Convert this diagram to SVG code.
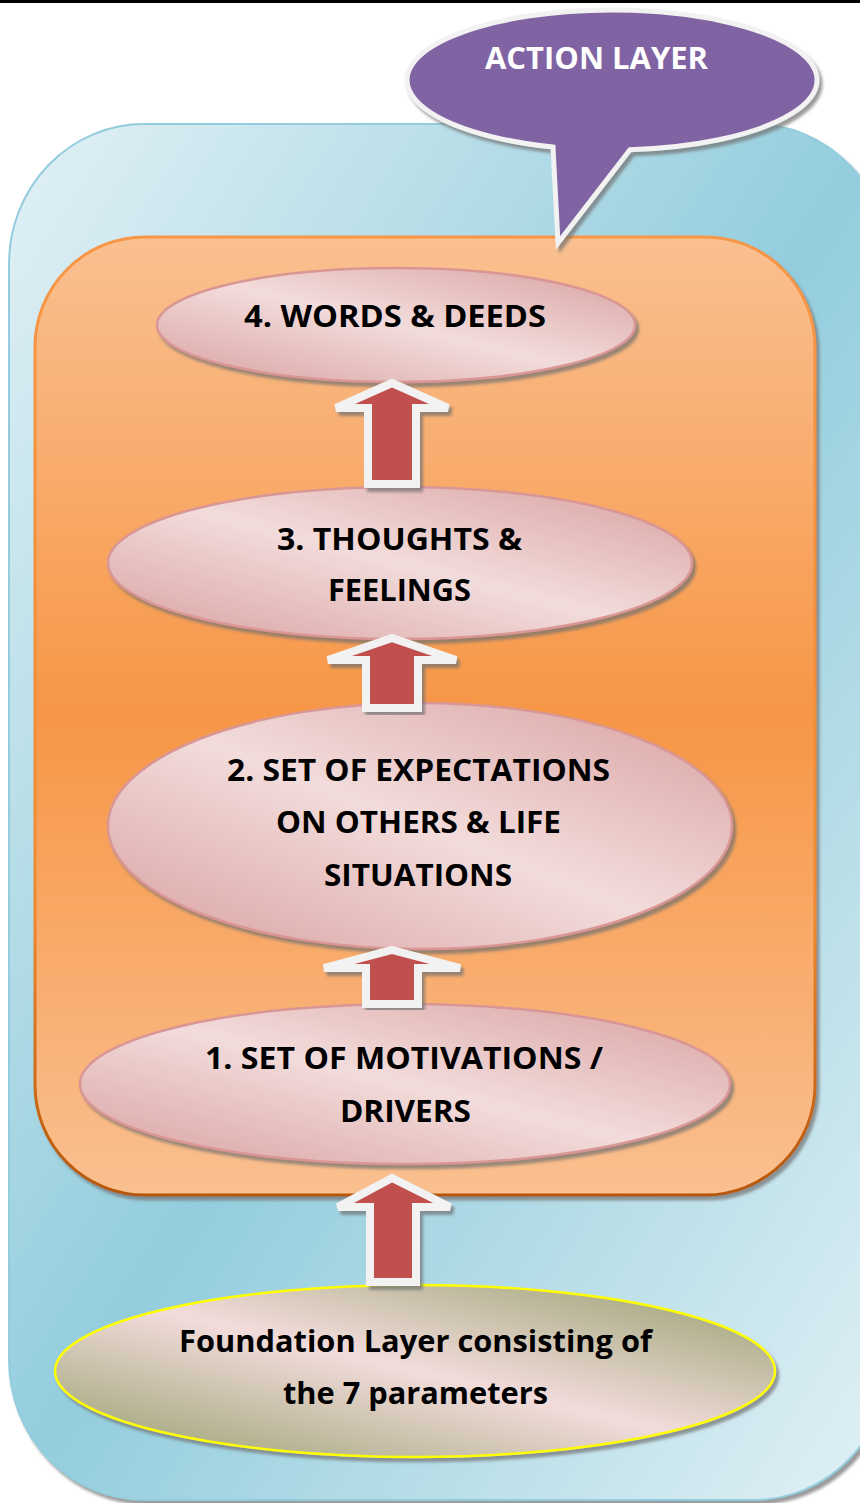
<svg xmlns="http://www.w3.org/2000/svg" width="860" height="1503" viewBox="0 0 860 1503">
<defs>
<linearGradient id="gBlue" x1="0" y1="0" x2="1" y2="1">
<stop offset="0" stop-color="#e2f1f5"/><stop offset="0.5" stop-color="#93cddd"/><stop offset="1" stop-color="#e2f1f5"/>
</linearGradient>
<linearGradient id="gOrange" x1="0" y1="0" x2="0" y2="1">
<stop offset="0" stop-color="#fac090"/><stop offset="0.5" stop-color="#f79646"/><stop offset="1" stop-color="#fac090"/>
</linearGradient>
<linearGradient id="gOrangeStroke" x1="0" y1="0" x2="0" y2="1">
<stop offset="0" stop-color="#f79646"/><stop offset="0.7" stop-color="#f08a30"/><stop offset="1" stop-color="#b65708"/>
</linearGradient>
<linearGradient id="gPink" x1="0" y1="1" x2="1" y2="0">
<stop offset="0" stop-color="#d9a0a0"/><stop offset="0.5" stop-color="#f2dcdb"/><stop offset="1" stop-color="#d9a0a0"/>
</linearGradient>
<linearGradient id="gFound" x1="0" y1="1" x2="1" y2="0">
<stop offset="0.05" stop-color="#9ea477"/><stop offset="0.5" stop-color="#f2dcdb"/><stop offset="0.95" stop-color="#9ea477"/>
</linearGradient>
<filter id="sh" x="-10%" y="-10%" width="120%" height="120%">
<feDropShadow dx="3" dy="4" stdDeviation="1.5" flood-color="#6f6f6f" flood-opacity="0.7"/>
</filter>
</defs>
<style>
.pink{fill:url(#gPink);stroke:#d99694;stroke-width:2.5;filter:url(#sh)}
.arrow{fill:#c0504d;stroke:#f2f2f2;stroke-width:8;stroke-linejoin:miter;filter:url(#sh)}
.t{font-family:"Open Sans","Liberation Sans",sans-serif;font-weight:bold;font-size:30px;fill:#000;text-anchor:middle}
.tw{font-family:"Open Sans","Liberation Sans",sans-serif;font-weight:bold;font-size:30px;fill:#fff;text-anchor:middle}
</style>
<rect x="0" y="0" width="860" height="3" fill="#000"/>
<g id="outer">
<rect x="9" y="124" width="880" height="1376" rx="135" ry="140" fill="url(#gBlue)" stroke="#93cddd" stroke-width="2" filter="url(#sh)"/>
</g>
<g id="action-layer-box">
<rect x="35" y="237" width="780" height="958" rx="110" ry="110" fill="url(#gOrange)" stroke="url(#gOrangeStroke)" stroke-width="3" filter="url(#sh)"/>
</g>
<g id="n4">
<ellipse class="pink" cx="396" cy="325" rx="239" ry="57"/>
<text class="t" x="395" y="327" textLength="302" lengthAdjust="spacingAndGlyphs">4. WORDS &amp; DEEDS</text>
</g>
<g id="n3">
<ellipse class="pink" cx="400" cy="563" rx="292" ry="76"/>
<text class="t" x="399.5" y="550" textLength="245" lengthAdjust="spacingAndGlyphs">3. THOUGHTS &amp;</text>
<text class="t" x="399.5" y="601" textLength="143" lengthAdjust="spacingAndGlyphs">FEELINGS</text>
</g>
<g id="n2">
<ellipse class="pink" cx="420" cy="826" rx="312" ry="123"/>
<text class="t" x="418.5" y="781" textLength="383" lengthAdjust="spacingAndGlyphs">2. SET OF EXPECTATIONS</text>
<text class="t" x="418.5" y="833" textLength="285" lengthAdjust="spacingAndGlyphs">ON OTHERS &amp; LIFE</text>
<text class="t" x="418" y="886" textLength="188" lengthAdjust="spacingAndGlyphs">SITUATIONS</text>
</g>
<g id="n1">
<ellipse class="pink" cx="405" cy="1084" rx="325" ry="80"/>
<text class="t" x="404" y="1069" textLength="398" lengthAdjust="spacingAndGlyphs">1. SET OF MOTIVATIONS /</text>
<text class="t" x="405.5" y="1122" textLength="131" lengthAdjust="spacingAndGlyphs">DRIVERS</text>
</g>
<g id="foundation">
<ellipse cx="415" cy="1371" rx="360" ry="86" fill="url(#gFound)" stroke="#ffff00" stroke-width="2.5" filter="url(#sh)"/>
<text class="t" x="415.5" y="1352" textLength="473" lengthAdjust="spacingAndGlyphs">Foundation Layer consisting of</text>
<text class="t" x="415.5" y="1404" textLength="265" lengthAdjust="spacingAndGlyphs">the 7 parameters</text>
</g>
<g id="connectors">
<polygon class="arrow" points="392,383 448,408 416,408 416,484 368,484 368,408 336,408"/>
<polygon class="arrow" points="392,638 456,660 418,660 418,708 366,708 366,660 328,660"/>
<polygon class="arrow" points="392,950 460,968 418,968 418,1004 366,1004 366,968 324,968"/>
<polygon class="arrow" points="392,1178 450,1207 416,1207 416,1282 370,1282 370,1207 338,1207"/>
</g>
<g id="callout">
<path d="M553,147 A205,70 0 1 1 630,149.7 L558,243 Z" fill="#8064a2" stroke="#f2f2f2" stroke-width="5" stroke-linejoin="miter" filter="url(#sh)"/>
<text class="tw" x="596.5" y="69" textLength="223" lengthAdjust="spacingAndGlyphs">ACTION LAYER</text>
</g>
</svg>
